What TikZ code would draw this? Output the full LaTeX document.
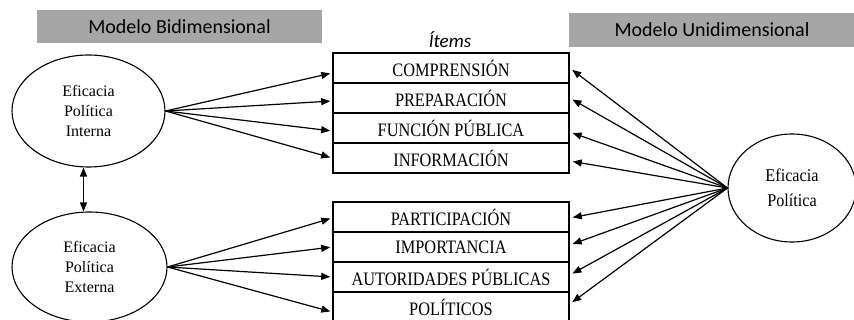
\documentclass[tikz,border=0pt]{standalone}
\usepackage{fontspec}
\setmainfont{Liberation Serif}
\newfontfamily\rowfont[FakeStretch=0.86]{Liberation Serif}
\newfontfamily\unifont[FakeStretch=0.9]{Liberation Serif}
\newfontfamily\hdrfont{Carlito}
\usetikzlibrary{shapes.geometric,arrows.meta,calc}
\definecolor{hdrgray}{RGB}{166,166,166}
\begin{document}
\begin{tikzpicture}[x=1pt,y=-1pt,
  rowbox/.style={draw,line width=1.6pt,minimum width=236pt,minimum height=30pt,inner sep=0pt,
    font=\rowfont\fontsize{19}{19}\selectfont},
  latent/.style={draw,ellipse,line width=1.1pt,inner sep=0pt,align=center},
  hdr/.style={fill=hdrgray,inner sep=0pt,font=\hdrfont\fontsize{20}{20}\selectfont},
  path/.style={line width=1.2pt,-{Triangle[length=9pt,width=7pt]}},
  dbl/.style={line width=1.3pt,{Triangle[length=9pt,width=7pt]}-{Triangle[length=9pt,width=7pt]}}
]
\useasboundingbox (0,0) rectangle (854,320);
\clip (0,0) rectangle (854,320);
% headers
\node[hdr,minimum width=285pt,minimum height=33pt] (hb) at (179.5,26.5) {Modelo Bidimensional};
\node[hdr,minimum width=286pt,minimum height=34pt] (hu) at (712,30) {Modelo Unidimensional};
\node[font=\hdrfont\itshape\fontsize{19}{19}\selectfont,inner sep=0pt] (items) at (450,40) {Ítems};
% rows
\node[rowbox] (r1) at (451,68) {COMPRENSIÓN};
\node[rowbox] (r2) at (451,98) {PREPARACIÓN};
\node[rowbox] (r3) at (451,128) {FUNCIÓN PÚBLICA};
\node[rowbox] (r4) at (451,158) {INFORMACIÓN};
\node[rowbox] (r5) at (451,217) {PARTICIPACIÓN};
\node[rowbox] (r6) at (451,247) {IMPORTANCIA};
\node[rowbox] (r7) at (451,277) {AUTORIDADES PÚBLICAS};
\node[rowbox] (r8) at (451,307) {POLÍTICOS};
% latent variables
\node[latent,minimum width=153pt,minimum height=112pt,font=\fontsize{16}{20}\selectfont] (int) at (88.5,111) {Eficacia\\Política\\Interna};
\node[latent,minimum width=155pt,minimum height=110pt,font=\fontsize{16}{20}\selectfont] (ext) at (89.5,267) {Eficacia\\Política\\Externa};
\node[latent,minimum width=128pt,minimum height=108pt,font=\unifont\fontsize{18}{25}\selectfont] (uni) at (792,188) {Eficacia\\Política};
% connectors
\draw[dbl] ([xshift=-5pt]int.south) -- ([xshift=-6pt]ext.north);
\draw[path,shorten >=2pt] (int.east) -- ($(r1.west)+(0,5)$);
\draw[path,shorten >=2pt] (int.east) -- ($(r2.west)+(0,3)$);
\draw[path,shorten >=2pt] (int.east) -- ($(r3.west)+(0,3)$);
\draw[path,shorten >=2pt] (int.east) -- ($(r4.west)+(0,0)$);
\draw[path,shorten >=2pt] (ext.east) -- ($(r5.west)+(0,1)$);
\draw[path,shorten >=2pt] (ext.east) -- ($(r6.west)+(0,0)$);
\draw[path,shorten >=2pt] (ext.east) -- ($(r7.west)+(0,0)$);
\draw[path,shorten >=2pt] (ext.east) -- ($(r8.west)+(0,5)$);
\draw[path,shorten >=3pt] (uni.west) -- ($(r1.east)+(0,0)$);
\draw[path,shorten >=3pt] (uni.west) -- ($(r2.east)+(0,0)$);
\draw[path,shorten >=3pt] (uni.west) -- ($(r3.east)+(0,4)$);
\draw[path,shorten >=3pt] (uni.west) -- ($(r4.east)+(0,3)$);
\draw[path,shorten >=3pt] (uni.west) -- ($(r5.east)+(0,1)$);
\draw[path,shorten >=3pt] (uni.west) -- ($(r6.east)+(0,-2)$);
\draw[path,shorten >=3pt] (uni.west) -- ($(r7.east)+(0,-2)$);
\draw[path,shorten >=3pt] (uni.west) -- ($(r8.east)+(0,-3)$);
\end{tikzpicture}
\end{document}
